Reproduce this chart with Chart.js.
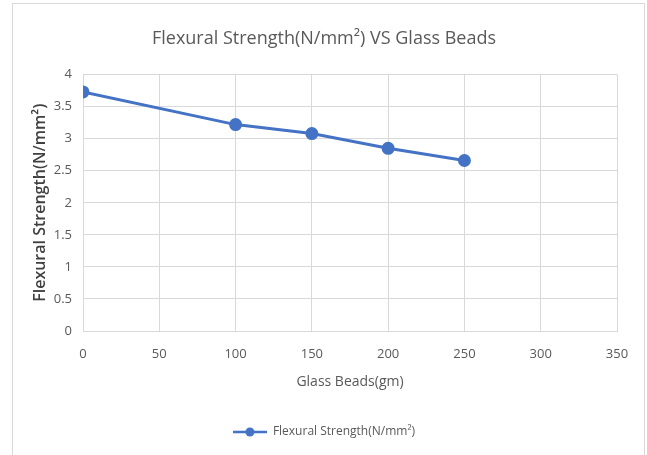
<!DOCTYPE html>
<html>
<head>
<meta charset="utf-8">
<script src="https://cdn.jsdelivr.net/npm/chart.js@4.4.0/dist/chart.umd.min.js"></script>
<style>
  html, body { margin: 0; padding: 0; background: #fff; }
  #box { position: absolute; left: 12px; top: 3px; width: 633px; height: 452px; border: 1px solid #d9d9d9; border-bottom: none; box-sizing: border-box; }
  #box canvas { display: block; }
</style>
</head>
<body>
<div id="box"><canvas id="chart" width="631" height="451"></canvas></div>
<script>
// data
const glassBeads = [0, 100, 150, 200, 250];
const flexuralStrength = [3.73, 3.22, 3.08, 2.85, 2.66];
const seriesName = 'Flexural Strength(N/mm\u00B2)';
const xTicks = [0, 50, 100, 150, 200, 250, 300, 350];
const yTicks = [0, 0.5, 1, 1.5, 2, 2.5, 3, 3.5, 4];

const blue = '#4472C4';
const grey = '#595959';
const fontFam = '"Open Sans", "Liberation Sans", sans-serif';

// little line-with-dot marker for the legend
const legendMark = document.createElement('canvas');
legendMark.width = 34;
legendMark.height = 12;
(function() {
    const c = legendMark.getContext('2d');
    c.strokeStyle = blue;
    c.lineWidth = 2.5;
    c.beginPath(); c.moveTo(0, 6); c.lineTo(34, 6); c.stroke();
    c.fillStyle = blue;
    c.beginPath(); c.arc(17, 6, 4.5, 0, Math.PI * 2); c.fill();
})();

const ctx = document.getElementById('chart').getContext('2d');
new Chart(ctx, {
    type: 'line',
    data: {
        datasets: [{
            label: seriesName,
            data: glassBeads.map((x, i) => ({ x: x, y: flexuralStrength[i] })),
            borderColor: blue,
            backgroundColor: blue,
            borderWidth: 3,
            pointRadius: 5,
            pointHoverRadius: 5,
            fill: false,
            tension: 0
        }]
    },
    options: {
        responsive: false,
        animation: false,
        layout: { padding: { left: 18, right: 27, top: 0, bottom: 7 } },
        plugins: {
            title: {
                display: true,
                text: 'Flexural Strength(N/mm\u00B2) VS Glass Beads',
                color: grey,
                font: { family: fontFam, size: 18, weight: 'normal' },
                padding: { top: 24, bottom: 25 }
            },
            legend: {
                position: 'bottom',
                labels: {
                    usePointStyle: true,
                    pointStyle: legendMark,
                    pointStyleWidth: 34,
                    color: grey,
                    font: { family: fontFam, size: 12 },
                    padding: 20
                }
            },
            tooltip: { enabled: false }
        },
        scales: {
            x: {
                type: 'linear',
                min: 0,
                max: 350,
                afterBuildTicks: s => { s.ticks = xTicks.map(v => ({ value: v })); },
                afterFit: s => { s.height = 75; },
                ticks: { color: grey, font: { family: fontFam, size: 13 }, padding: 15 },
                grid: { color: '#d9d9d9', drawTicks: false },
                border: { color: '#d9d9d9' },
                title: {
                    display: true,
                    text: 'Glass Beads(gm)',
                    color: grey,
                    font: { family: fontFam, size: 14 },
                    padding: { top: 5, bottom: 16 }
                }
            },
            y: {
                min: 0,
                max: 4,
                afterBuildTicks: s => { s.ticks = yTicks.map(v => ({ value: v })); },
                afterFit: s => { s.width = 52; },
                ticks: {
                    color: grey,
                    font: { family: fontFam, size: 13 },
                    padding: 11,
                    callback: v => String(v)
                },
                grid: { color: '#d9d9d9', drawTicks: false },
                border: { display: false },
                title: {
                    display: true,
                    text: seriesName,
                    color: '#404040',
                    font: { family: fontFam, size: 16, weight: '600' },
                    padding: { top: 0, bottom: 0 }
                }
            }
        }
    }
});
</script>
</body>
</html>
